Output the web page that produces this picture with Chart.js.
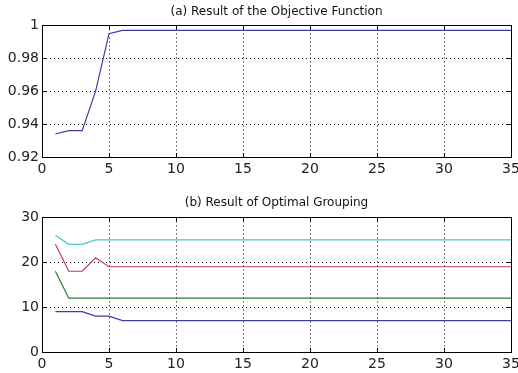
<!DOCTYPE html>
<html>
<head>
<meta charset="utf-8">
<script src="https://cdn.jsdelivr.net/npm/chart.js@4"></script>
<style>
  body { margin: 0; background: #fff; }
  #wrap { position: relative; width: 518px; height: 373px; }
  #top { position: absolute; left: 0; top: 0; }
  #bottom { position: absolute; left: 0; top: 180px; }
</style>
</head>
<body>
<div id="wrap">
  <canvas id="top" width="518" height="180"></canvas>
  <canvas id="bottom" width="518" height="193"></canvas>
</div>
<script>
/// data ///
const iterations = [1,2,3,4,5,6,7,8,9,10,11,12,13,14,15,16,17,18,19,20,21,22,23,24,25,26,27,28,29,30,31,32,33,34,35]
const objective = [0.934,0.936,0.936,0.960,0.995,0.997,0.997,0.997,0.997,0.997,0.997,0.997,0.997,0.997,0.997,0.997,0.997,0.997,0.997,0.997,0.997,0.997,0.997,0.997,0.997,0.997,0.997,0.997,0.997,0.997,0.997,0.997,0.997,0.997,0.997]
const group1 = [9,9,9,8,8,7,7,7,7,7,7,7,7,7,7,7,7,7,7,7,7,7,7,7,7,7,7,7,7,7,7,7,7,7,7]
const group2 = [18,12,12,12,12,12,12,12,12,12,12,12,12,12,12,12,12,12,12,12,12,12,12,12,12,12,12,12,12,12,12,12,12,12,12]
const group3 = [24,18,18,21,19,19,19,19,19,19,19,19,19,19,19,19,19,19,19,19,19,19,19,19,19,19,19,19,19,19,19,19,19,19,19]
const group4 = [26,24,24,25,25,25,25,25,25,25,25,25,25,25,25,25,25,25,25,25,25,25,25,25,25,25,25,25,25,25,25,25,25,25,25]
const xTicks = [0,5,10,15,20,25,30,35]
const topTicks = [0.92,0.94,0.96,0.98,1]
const bottomTicks = [0,10,20,30]

const family = '"DejaVu Sans", Arial, sans-serif'
const font = { family: family, size: 14 }

//// box + inner tick marks, like matlab ////
const boxPlugin = {
  id: 'box',
  afterDraw(chart) {
    const a = chart.chartArea
    const ctx = chart.ctx
    ctx.save()
    ctx.strokeStyle = '#000'
    ctx.lineWidth = 1
    ctx.strokeRect(Math.round(a.left) + 0.5, Math.round(a.top) + 0.5,
      Math.round(a.right - a.left), Math.round(a.bottom - a.top))
    const xs = chart.scales.x, ys = chart.scales.y
    ctx.beginPath()
    xs.ticks.forEach(t => {
      const px = Math.round(xs.getPixelForValue(t.value)) + 0.5
      ctx.moveTo(px, a.bottom); ctx.lineTo(px, a.bottom - 4)
      ctx.moveTo(px, a.top); ctx.lineTo(px, a.top + 4)
    })
    ys.ticks.forEach(t => {
      const py = Math.round(ys.getPixelForValue(t.value)) + 0.5
      ctx.moveTo(a.left, py); ctx.lineTo(a.left + 4, py)
      ctx.moveTo(a.right, py); ctx.lineTo(a.right - 4, py)
    })
    ctx.stroke()
    ctx.restore()
  }
}

function gridColor(min, max) {
  return c => (c.tick && (c.tick.value === min || c.tick.value === max)) ? 'rgba(0,0,0,0)' : '#000'
}

function makeChart(id, title, datasets, yMin, yMax, yTicks, titlePad, xHeight) {
  const ctx = document.getElementById(id).getContext('2d')
  return new Chart(ctx, {
    type: 'line',
    data: { labels: iterations, datasets: datasets },
    plugins: [boxPlugin],
    options: {
      responsive: false,
      animation: false,
      layout: { padding: { left: 0, right: 7, top: 0, bottom: 0 } },
      elements: { point: { radius: 0 }, line: { borderWidth: 1.2, tension: 0 } },
      plugins: {
        legend: { display: false },
        tooltip: { enabled: false },
        title: { display: true, fullSize: false, text: title, color: '#111', font: { family: family, size: 12, weight: 'normal' }, padding: titlePad }
      },
      scales: {
        x: {
          type: 'linear', min: 0, max: 35,
          afterBuildTicks: s => { s.ticks = xTicks.map(v => ({ value: v })) },
          afterFit: s => { s.height = xHeight; s.paddingLeft = 0; s.paddingRight = 0 },
          ticks: { color: '#222', font: font, padding: 4, maxRotation: 0 },
          grid: { color: gridColor(0, 35), drawTicks: false },
          border: { display: false, dash: [1, 3] }
        },
        y: {
          min: yMin, max: yMax,
          afterBuildTicks: s => { s.ticks = yTicks.map(v => ({ value: v })) },
          afterFit: s => { s.width = 42 },
          ticks: { color: '#222', font: font, padding: 3, callback: v => String(v) },
          grid: { color: gridColor(yMin, yMax), drawTicks: false },
          border: { display: false, dash: [1, 3] }
        }
      }
    }
  })
}

function series(values, color) {
  return { data: iterations.map((x, i) => ({ x: x, y: values[i] })), borderColor: color, backgroundColor: color, fill: false }
}

makeChart('top', '(a) Result of the Objective Function',
  [series(objective, '#3c3ca8')], 0.92, 1, topTicks, { top: 5, bottom: 6 }, 23)

makeChart('bottom', '(b) Result of Optimal Grouping',
  [series(group4, '#4cc4c8'), series(group3, '#c03a55'), series(group2, '#2a7a3a'), series(group1, '#3c3ca8')],
  0, 30, bottomTicks, { top: 16, bottom: 7 }, 21)
</script>
</body>
</html>
